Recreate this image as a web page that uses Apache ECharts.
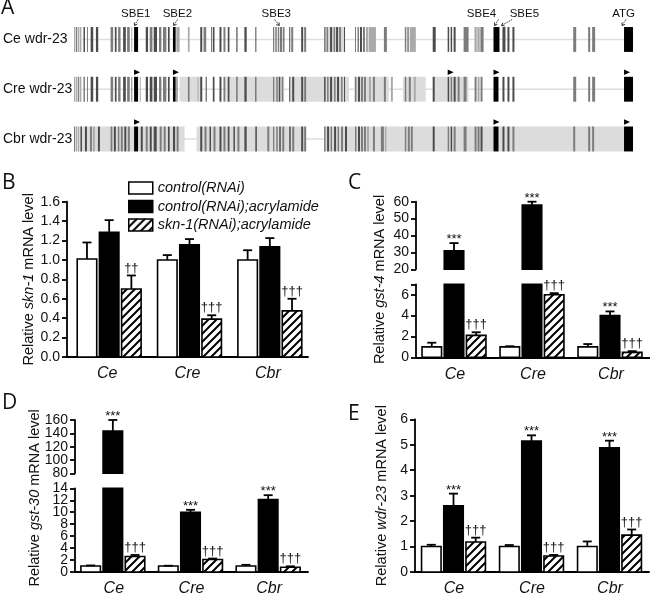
<!DOCTYPE html>
<html><head><meta charset="utf-8">
<script src="https://cdn.jsdelivr.net/npm/echarts@6.0.0/dist/echarts.min.js"></script>
<style>html,body{margin:0;padding:0;background:#fff}#c{width:650px;height:597px}</style>
</head><body><div id="c"></div>
<script>
// ---------------- DATA ----------------
const categories = ['Ce', 'Cre', 'Cbr'];
const conditions = ['control(RNAi)', 'control(RNAi);acrylamide', 'skn-1(RNAi);acrylamide'];

// Panel B: skn-1 (rows = conditions, cols = categories)
const skn1Mean = [[1.01, 1.00, 1.00], [1.285, 1.155, 1.135], [0.70, 0.39, 0.475]];
const skn1Err  = [[0.17, 0.05, 0.10], [0.125, 0.06, 0.09], [0.14, 0.04, 0.125]];
const skn1Sig  = [['', '', ''], ['', '', ''], ['††', '†††', '†††']];
const skn1Ticks = [0, 0.2, 0.4, 0.6, 0.8, 1.0, 1.2, 1.4, 1.6];

// Panel C: gst-4
const gst4Mean = [[1.0, 1.0, 1.0], [31, 58, 4.0], [2.1, 6.0, 0.47]];
const gst4Err  = [[0.4, 0.06, 0.27], [4.5, 2.0, 0.4], [0.3, 0.15, 0.12]];
const gst4Sig  = [['', '', ''], ['***', '***', '***'], ['†††', '†††', '†††']];
const gst4UpperTicks = [20, 30, 40, 50, 60];
const gst4LowerTicks = [0, 2, 4, 6];
const gst4LowerTickMarks = [0, 2, 4, 6, 7];

// Panel D: gst-30
const gst30Mean = [[1.0, 1.0, 1.0], [143.5, 10.0, 12.1], [2.6, 2.1, 0.8]];
const gst30Err  = [[0.1, 0.05, 0.2], [16.5, 0.4, 0.75], [0.25, 0.15, 0.15]];
const gst30Sig  = [['', '', ''], ['***', '***', '***'], ['†††', '†††', '†††']];
const gst30UpperTicks = [80, 100, 120, 140, 160];
const gst30LowerTicks = [0, 2, 4, 6, 8, 10, 12, 14];

// Panel E: wdr-23
const wdr23Mean = [[1.0, 1.0, 1.0], [2.6, 5.15, 4.88], [1.18, 0.63, 1.45]];
const wdr23Err  = [[0.07, 0.06, 0.2], [0.48, 0.22, 0.28], [0.17, 0.04, 0.22]];
const wdr23Sig  = [['', '', ''], ['***', '***', '***'], ['†††', '†††', '†††']];
const wdr23Ticks = [0, 1, 2, 3, 4, 5, 6];

// Panel A: promoter alignment tracks (positions along the aligned region)
const trackNames = ['Ce wdr-23', 'Cre wdr-23', 'Cbr wdr-23'];
const regionLength = 561;
// [start, end, shade 1..4]
const ceBars = [
 [0,1,1],[2,3,2],[4,5,1],[6,7,1],[9.5,11,3],[13,14,2],[16.7,19.3,3],[22,24.3,3],
 [36.7,39.3,2],[41,42.7,3],[44.3,46.7,2],[49.3,52,3],[53.3,56,2],[57.5,58.5,1],[60.3,64.3,4],
 [72,74.3,3],[76,78.7,2],[80,83.3,3],[85.3,87.7,2],[89.3,92.7,2],[94.3,96,3],[99.3,102,4],[102.7,106,1],
 [114.3,116,1],[126.7,128.7,3],[130,132.7,2],[137.5,138.5,2],[139.3,141,3],[146,148,3],[150,152,2],[154.3,156,3],[162.7,164.3,2],[171,173.3,3],[182,183,3],
 [199.7,201,2],[202,203.5,2],[204.5,206,2],[207,208.5,3],[209.5,211.3,2],
 [216,217,3],[218,220,2],[228,230,3],[231,233,2],
 [251,252.5,2],[253.5,255,2],[257,259,3],[260.5,262,2],[263,265,3],[266,268,2],[271,272,3],
 [282,283,2],[284.5,286,2],[287,289,3],[290,292,2],[293,295,1],[296,303,1],
 [311,314,2],
 [332,333.5,2],[334.5,336,2],[337,343,1],
 [360,363,3],[375,376.5,3],[378,379.5,3],[381,383,3],[391,396,2],[402,404,1],[405,407,1],[408,411,2],
 [421,427,4],[430,433,3],[435,437,3],[440,442,3],
 [501,504,2],[516,518,2],[520,523,2],[552,561,4]
];
const creBars = [
 [0,1,1],[2,3,1],[4,5,2],[6,7,1],[9.5,11,2],[13,14,2],[16.7,19.3,3],[22,24.3,3],
 [36.7,39.3,2],[41,42.7,3],[44.3,46.7,2],[49.3,52,3],[53.3,56,2],[57.5,58.5,2],[60.3,64.3,4],
 [66,67,1],[72,74.3,3],[76,78.7,3],[80,83.3,3],[85.3,87.7,2],[89.3,92.7,2],[94.3,96,3],[99.3,102,4],[102.7,104,2],
 [114.3,116,2],[124,125,1],[126.7,128.7,3],[132,133.5,2],[139.3,141,3],[146,148,3],[150,152,2],[154.3,156,3],[162.7,164.3,2],[171,173.3,3],[182,183,3],
 [199.7,201,2],[203,204.5,2],[205.5,207,3],[208.5,210,2],
 [216,217,3],[219,221,3],[228,230,3],[231,233,2],
 [251,252.5,3],[254,255.5,2],[257,259,3],[261,262.5,2],[264,266,3],[268,269.5,2],[271,272,3],
 [282,283.5,2],[285,287,3],[288,290,2],[291,293,2],[296,298,1],[300,302,2],
 [311,313,2],[318,320,1],
 [332,333.5,2],[336,338,2],[341,343,1],
 [360,362,3],[375,376.5,3],[378,379.5,2],[381,383,3],[385,387,2],[391,394,2],[402,404,2],[405,407,1],[408,410,2],
 [421,426,4],[430,432,3],[435,437,3],[440,442,3],
 [501,504,2],[516,518,2],[520,523,2],[552,561,4]
];
const cbrBars = [
 [0,1,2],[2,3,1],[4,5,1],[6.5,8,3],[11,13,3],[16,18,2],[19,21,1],[24,26,3],
 [36.7,38.5,2],[40,42,3],[44,45.5,2],[47,49,2],[50.5,52.5,3],[54,56,2],[60.3,64.3,4],
 [67,69,3],[72,74,2],[76,78,3],[80,83,3],[86,88,2],[90,92,2],[94.3,96,3],[99.3,101.5,3],[103,105,2],
 [126.7,128.7,3],[131,133,2],[136,137.5,3],[140,142,2],[146,148,3],[150,152,2],[154.3,156,3],[160,161.5,3],[164,166,2],[171,173.3,3],
 [182,183.5,3],[194,196,2],[199.7,201,2],[203,204.5,2],[206,207.5,3],[209,211,2],
 [216,217.5,3],[219,221,2],[228,230,3],[231,233,2],
 [251,252.5,2],[254,256,3],[257.5,259,2],[261,263,3],[264.5,266,2],[268,270,2],[272,274,3],
 [282,283.5,2],[285,287,3],[288,290,2],[291,293,2],[294,296,1],[300,302,2],
 [308,311,2],[312,313.5,1],
 [332,333.5,2],[335,337,2],[338,340,2],
 [360,362,3],[375,376.5,2],[378,379.5,3],[381,383,2],[391,394,2],[402,404,2],[405,407,2],[408,410,3],
 [421,426,4],[430,432,3],[435,437,3],[440,442,2],
 [501,503,2],[516,518,2],[520,522,2],[552,561,4]
];
const ceShade  = [[0,8],[251,272],[293,303],[337,343],[402,411]];
const creShade = [[0,8],[106,128],[153,211],[216,276],[281,316],[330,353],[360,396]];
const cbrShade = [[0,111],[123,233],[251,561]];
const creFlags = [60.3, 99.3, 375, 421, 552];
const cbrFlags = [60.3, 421, 552];
// annotation labels, label centre, arrow start, arrow end
const sbeLabels = ['SBE1', 'SBE2', 'SBE3', 'SBE4', 'SBE5', 'ATG'];
const sbeLabelPos = [62, 103.7, 203, 409, 452, 551.5];
const sbeArrowFrom = [64.3, 104, 201.3, 426, 439.7, 554];
const sbeArrowTo = [60.7, 100, 206, 422, 429, 550];

// ---------------- STYLE ----------------
const FONT = 'Liberation Sans';
const TXT = '#111';
function makeHatch() {
  const s = 8, c = document.createElement('canvas');
  c.width = s; c.height = s;
  const g = c.getContext('2d');
  g.fillStyle = '#fff'; g.fillRect(0, 0, s, s);
  g.strokeStyle = '#000'; g.lineWidth = 2;
  g.beginPath();
  g.moveTo(-2, s + 2); g.lineTo(s + 2, -2);
  g.moveTo(-2, 2); g.lineTo(2, -2);
  g.moveTo(s - 2, s + 2); g.lineTo(s + 2, s - 2);
  g.stroke();
  return c;
}
const hatchFill = { image: makeHatch(), repeat: 'repeat' };
const fills = ['#ffffff', '#000000', hatchFill];
const shadeColors = ['#000', '#aaaaaa', '#7c7c7c', '#4b4b4b', '#000000'];

const BW = 19.5, STEP = 22.2;
function barRender(c, shift, sig) {
  return function (params, api) {
    const k = api.value(0), v = api.value(1), e = api.value(2);
    const cs = params.coordSys;
    const top = cs.y, bot = cs.y + cs.height;
    const pv = api.coord([k, v]);
    const cx = pv[0] + shift + (c - 1) * STEP;
    const yv = pv[1];
    const y0 = api.coord([k, 0])[1];
    const yt = Math.max(yv, top), yb = Math.min(y0, bot);
    const ch = [];
    if (yb - yt > 0.3) {
      ch.push({ type: 'rect', shape: { x: cx - BW / 2, y: yt, width: BW, height: yb - yt },
        style: { fill: fills[c], stroke: '#000', lineWidth: 1.6 } });
    }
    if (yv >= top - 0.5 && yv <= bot + 0.5) {
      const ye = api.coord([k, v + e])[1];
      ch.push({ type: 'line', shape: { x1: cx, y1: yv, x2: cx, y2: ye }, style: { stroke: '#000', lineWidth: 1.8 } });
      ch.push({ type: 'line', shape: { x1: cx - 4.5, y1: ye, x2: cx + 4.5, y2: ye }, style: { stroke: '#000', lineWidth: 1.8 } });
      const s = sig[params.dataIndex];
      if (s) {
        const star = s.indexOf('*') >= 0;
        ch.push({ type: 'text', style: { text: s, x: cx, y: star ? ye + 3 : ye - 1, align: 'center', verticalAlign: 'bottom',
          font: '13px ' + FONT, fill: TXT } });
      }
    }
    return { type: 'group', children: ch };
  };
}
function barSeries(gi, means, errs, sigs, shift) {
  return [0, 1, 2].map(c => ({
    type: 'custom', name: conditions[c], xAxisIndex: gi, yAxisIndex: gi, silent: true,
    renderItem: barRender(c, shift, sigs[c]),
    data: categories.map((_, k) => [k, means[c][k], errs[c][k]]),
    encode: { x: 0, y: 1 },
    itemStyle: { color: fills[c], borderColor: '#000', borderWidth: 1.5 }
  }));
}
const axisLineStyle = { show: true, lineStyle: { color: '#000', width: 1.8 } };
function yVal(gi, min, max, interval, labels, ticks, fmt, extra) {
  const lab = { color: TXT, fontSize: 14, fontFamily: FONT, margin: 7, customValues: labels,
    showMinLabel: true, showMaxLabel: true, hideOverlap: false };
  if (fmt) lab.formatter = fmt;
  const ax = {
    gridIndex: gi, type: 'value', min: min, max: max, interval: interval, position: 'left',
    axisLine: axisLineStyle,
    axisTick: { show: true, length: 5, lineStyle: { color: '#000', width: 1.8 }, customValues: ticks },
    axisLabel: lab,
    splitLine: { show: false }
  };
  return Object.assign(ax, extra || {});
}
// extra label-only axis (same scale, same position) for densely packed tick labels
function yLabelsOnly(gi, min, max, interval, labels) {
  const ax = yVal(gi, min, max, interval, labels, labels);
  ax.axisLine = { show: false };
  ax.axisTick = { show: false };
  return ax;
}
function yName(gene, gap) {
  return {
    name: '{a|Relative }{b|' + gene + '}{a| mRNA level}', nameLocation: 'middle', nameRotate: 90, nameGap: gap,
    nameTextStyle: { rich: { a: { fontSize: 14.5, fontFamily: FONT, color: TXT }, b: { fontSize: 14.5, fontFamily: FONT, fontStyle: 'italic', color: TXT } } }
  };
}
function xCat(gi, show) {
  return { gridIndex: gi, type: 'category', data: categories, show: show,
    axisLine: axisLineStyle, axisTick: { show: false },
    axisLabel: { color: TXT, fontSize: 16, fontStyle: 'italic', fontFamily: FONT, margin: 9 } };
}

// ---------------- LAYOUT ----------------
const grid = [
  { left: 72, top: 14.6, width: 561, height: 149.25 },      // 0 A
  { left: 67, top: 201.7, width: 241, height: 155.3 },      // 1 B
  { left: 416, top: 201.7, width: 234, height: 67.6 },      // 2 C upper
  { left: 416, top: 284.3, width: 234, height: 73 },        // 3 C lower
  { left: 416, top: 201.7, width: 234, height: 155.6 },     // 4 C name
  { left: 75, top: 420, width: 233, height: 53.3 },         // 5 D upper
  { left: 75, top: 488.3, width: 233, height: 87.4 },       // 6 D lower
  { left: 75, top: 420, width: 233, height: 155.7 },        // 7 D name
  { left: 415, top: 419.3, width: 234, height: 156.4 }      // 8 E
];

const xAxis = [
  { gridIndex: 0, type: 'value', min: 0, max: regionLength, show: false },
  xCat(1, true), xCat(2, false), xCat(3, true),
  { gridIndex: 4, type: 'value', show: false },
  xCat(5, false), xCat(6, true),
  { gridIndex: 7, type: 'value', show: false },
  xCat(8, true)
];
const hiddenName = (gi, gene, gap) => Object.assign({
  gridIndex: gi, type: 'value', min: 0, max: 1,
  axisLine: { show: false }, axisTick: { show: false }, axisLabel: { show: false }, splitLine: { show: false }
}, yName(gene, gap));
const evenIdx = arr => arr.filter((_, i) => i % 2 === 0);
const oddIdx = arr => arr.filter((_, i) => i % 2 === 1);
const yAxis = [
  { gridIndex: 0, type: 'category', data: trackNames, inverse: true,
    axisLine: { show: false }, axisTick: { show: false },
    axisLabel: { align: 'left', margin: 71, fontSize: 14, fontFamily: FONT, color: TXT, padding: [4, 0, 0, 0] } },
  yVal(1, 0, 1.6, 0.2, skn1Ticks, skn1Ticks, v => v.toFixed(1), yName('skn-1', 23)),
  yVal(2, 20, 60, 10, gst4UpperTicks, gst4UpperTicks),
  yVal(3, 0, 7, 1, gst4LowerTicks, gst4LowerTickMarks),
  hiddenName(4, 'gst-4', 29),
  yVal(5, 80, 160, 20, evenIdx(gst30UpperTicks), gst30UpperTicks),
  yVal(6, 0, 14, 2, evenIdx(gst30LowerTicks), gst30LowerTicks),
  hiddenName(7, 'gst-30', 33),
  yVal(8, 0, 6, 1, wdr23Ticks, wdr23Ticks, null, yName('wdr-23', 26)),
  yLabelsOnly(5, 80, 160, 20, oddIdx(gst30UpperTicks)),
  yLabelsOnly(6, 0, 14, 2, oddIdx(gst30LowerTicks))
];

// ---------------- SERIES ----------------
const series = [];
// Panel A backbone
series.push({
  type: 'custom', xAxisIndex: 0, yAxisIndex: 0, silent: true, encode: { x: [0, 1], y: 2 },
  data: trackNames.map((_, t) => [0, regionLength, t]),
  renderItem: (p, api) => {
    const a = api.coord([api.value(0), api.value(2)]), b = api.coord([api.value(1), api.value(2)]);
    return { type: 'line', shape: { x1: a[0], y1: a[1], x2: b[0], y2: b[1] }, style: { stroke: '#dedede', lineWidth: 1.6 } };
  }
});
// Panel A conserved shading
const shadeData = [ceShade, creShade, cbrShade].flatMap((arr, t) => arr.map(r => [r[0], r[1], t]));
series.push({
  type: 'custom', xAxisIndex: 0, yAxisIndex: 0, silent: true, encode: { x: [0, 1], y: 2 },
  data: shadeData,
  renderItem: (p, api) => {
    const t = api.value(2);
    const a = api.coord([api.value(0), t]), b = api.coord([api.value(1), t]);
    const h = api.size([0, 1])[1] * 0.5;
    return { type: 'rect', shape: { x: a[0], y: a[1] - h / 2, width: b[0] - a[0], height: h }, style: { fill: '#dcdcdc' } };
  }
});
// Panel A element bars
const elemData = [ceBars, creBars, cbrBars].flatMap((arr, t) => arr.map(b => [b[0], b[1], b[2], t]));
series.push({
  type: 'custom', xAxisIndex: 0, yAxisIndex: 0, silent: true, encode: { x: [0, 1], y: 3 },
  data: elemData,
  renderItem: (p, api) => {
    const t = api.value(3);
    const a = api.coord([api.value(0), t]), b = api.coord([api.value(1), t]);
    const h = api.size([0, 1])[1] * 0.5;
    return { type: 'rect', shape: { x: a[0], y: a[1] - h / 2, width: Math.max(b[0] - a[0], 0.9), height: h },
      style: { fill: shadeColors[api.value(2)] } };
  }
});
// Panel A flags
const flagData = [[], creFlags, cbrFlags].flatMap((arr, t) => arr.map(x => [x, t]));
series.push({
  type: 'custom', xAxisIndex: 0, yAxisIndex: 0, silent: true, encode: { x: 0, y: 1 },
  data: flagData,
  renderItem: (p, api) => {
    const a = api.coord([api.value(0), api.value(1)]);
    const h = api.size([0, 1])[1] * 0.5;
    const y = a[1] - h / 2 - 4.5;
    return { type: 'polygon', shape: { points: [[a[0], y - 2.8], [a[0] + 6, y], [a[0], y + 2.8]] }, style: { fill: '#000' } };
  }
});
// Panel A SBE / ATG annotations
series.push({
  type: 'custom', xAxisIndex: 0, yAxisIndex: 0, silent: true, encode: { x: [0, 1, 2], y: 3 },
  data: sbeLabels.map((_, i) => [sbeLabelPos[i], sbeArrowFrom[i], sbeArrowTo[i], 0]),
  renderItem: (p, api) => {
    const i = p.dataIndex;
    const lab = api.coord([api.value(0), 0]);
    const h = api.size([0, 1])[1] * 0.5;
    const trackTop = lab[1] - h / 2;
    const x1 = api.coord([api.value(1), 0])[0], x2 = api.coord([api.value(2), 0])[0];
    const y1 = trackTop - 7.5, y2 = trackTop - 1.5;
    const ang = Math.atan2(y2 - y1, x2 - x1);
    const hl = 3.2;
    const hx1 = x2 - hl * Math.cos(ang - 0.6), hy1 = y2 - hl * Math.sin(ang - 0.6);
    const hx2 = x2 - hl * Math.cos(ang + 0.6), hy2 = y2 - hl * Math.sin(ang + 0.6);
    return { type: 'group', children: [
      { type: 'text', style: { text: sbeLabels[i], x: lab[0], y: trackTop - 13, align: 'center', verticalAlign: 'middle', font: '11.5px ' + FONT, fill: TXT } },
      { type: 'line', shape: { x1: x1, y1: y1, x2: x2, y2: y2 }, style: { stroke: '#222', lineWidth: 0.9, lineDash: [1.5, 1] } },
      { type: 'polyline', shape: { points: [[hx1, hy1], [x2, y2], [hx2, hy2]] }, style: { stroke: '#222', lineWidth: 0.9, fill: null } }
    ] };
  }
});
// Bar panels
series.push(...barSeries(1, skn1Mean, skn1Err, skn1Sig, 2));
series.push(...barSeries(2, gst4Mean, gst4Err, gst4Sig, -1));
series.push(...barSeries(3, gst4Mean, gst4Err, gst4Sig, -1));
series.push(...barSeries(5, gst30Mean, gst30Err, gst30Sig, -1));
series.push(...barSeries(6, gst30Mean, gst30Err, gst30Sig, -1));
series.push(...barSeries(8, wdr23Mean, wdr23Err, wdr23Sig, -0.5));

const letter = (t, l, tp) => ({ text: t, left: l, top: tp, padding: 0, textStyle: { fontSize: 21, fontWeight: 'normal', fontFamily: 'Open Sans', color: '#111' } });

const option = {
  animation: false,
  backgroundColor: '#fff',
  title: [letter('A', 1, -2), letter('B', 2, 173), letter('C', 348, 173), letter('D', 2, 393), letter('E', 348, 404)],
  legend: {
    orient: 'vertical', left: 123, top: 175.5, itemWidth: 24, itemHeight: 12, itemGap: 3.5, itemTextGap: 11,
    selectedMode: false,
    textStyle: { fontSize: 14.5, lineHeight: 15, fontStyle: 'italic', fontFamily: FONT, color: TXT },
    data: conditions.map((n, i) => ({ name: n, icon: 'rect', itemStyle: { color: fills[i], borderColor: '#000', borderWidth: 1.5 } }))
  },
  grid: grid,
  xAxis: xAxis,
  yAxis: yAxis,
  series: series
};
const chart = echarts.init(document.getElementById('c'), null, { renderer: 'canvas' });
chart.setOption(option);
</script>
</body></html>
